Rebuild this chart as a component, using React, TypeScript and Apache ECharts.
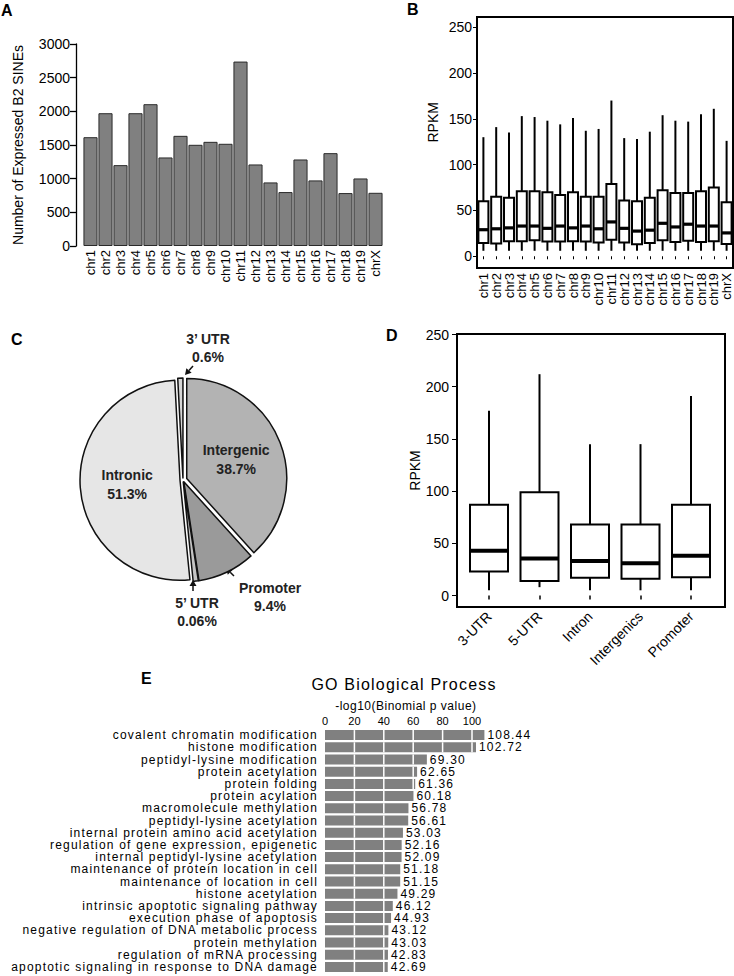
import React, { useEffect, useRef } from "react";
import * as echarts from "echarts";

const FONT = "'Liberation Sans', Arial, Helvetica, sans-serif";

// ---------- Panel A ----------
const chromosomes = ["chr1", "chr2", "chr3", "chr4", "chr5", "chr6", "chr7", "chr8", "chr9", "chr10", "chr11", "chr12", "chr13", "chr14", "chr15", "chr16", "chr17", "chr18", "chr19", "chrX"];
const expressedB2Counts = [1616, 1972, 1201, 1972, 2106, 1315, 1636, 1503, 1547, 1518, 2739, 1211, 944, 801, 1285, 974, 1379, 786, 1003, 790];

// ---------- Panel B ----------
const chrRpkmLow = [6, 6, 6, 6, 6, 6, 6, 6, 6, 6, 6, 6, 6, 6, 6, 6, 6, 6, 6, 6];
const chrRpkmQ1 = [14.5, 14, 16.5, 16.5, 17.5, 16, 16, 16.5, 16, 15, 18, 15, 13, 14.5, 17.5, 15.5, 17, 15.5, 16.5, 13.5];
const chrRpkmMedian = [29, 30, 31, 33, 33, 30.5, 33, 31, 33, 30, 37.5, 30.5, 27.5, 28.5, 36, 32, 35, 33, 33, 25.5];
const chrRpkmQ3 = [60, 65, 64, 71, 71, 70, 67, 70, 65, 65, 79, 61, 60, 64, 72, 69, 69, 71, 75, 59];
const chrRpkmHigh = [130, 141, 135, 153, 152, 148, 144, 151, 137, 139, 170, 129, 128, 136, 154, 148, 147, 155, 161, 126];
const rpkmTicks = [0, 50, 100, 150, 200, 250];

// ---------- Panel C ----------
const regionNames = ["Intergenic", "Promoter", "5’ UTR", "Intronic", "3’ UTR"];
const regionPercents = [38.7, 9.4, 0.06, 51.3, 0.6];

// ---------- Panel D ----------
const featureNames = ["3-UTR", "5-UTR", "Intron", "Intergenics", "Promoter"];
const featureLow = [5, 8, 5, 5, 5];
const featureQ1 = [23, 14, 17, 16, 17.5];
const featureMedian = [43, 35.5, 33, 31, 38];
const featureQ3 = [87, 99, 68, 68, 87];
const featureHigh = [177, 212, 145, 145, 191];

// ---------- Panel E ----------
const goTerms = [
  "covalent chromatin modification",
  "histone modification",
  "peptidyl-lysine modification",
  "protein acetylation",
  "protein folding",
  "protein acylation",
  "macromolecule methylation",
  "peptidyl-lysine acetylation",
  "internal protein amino acid acetylation",
  "regulation of gene expression, epigenetic",
  "internal peptidyl-lysine acetylation",
  "maintenance of protein location in cell",
  "maintenance of location in cell",
  "histone acetylation",
  "intrinsic apoptotic signaling pathway",
  "execution phase of apoptosis",
  "negative regulation of DNA metabolic process",
  "protein methylation",
  "regulation of mRNA processing",
  "apoptotic signaling in response to DNA damage",
];
const goScores = [108.44, 102.72, 69.3, 62.65, 61.36, 60.18, 56.78, 56.61, 53.03, 52.16, 52.09, 51.18, 51.15, 49.29, 46.12, 44.93, 43.12, 43.03, 42.83, 42.69];
const goTicks = [0, 20, 40, 60, 80, 100];

// ---------- styles ----------
const sliceColors = ["#b3b3b3", "#9a9a9a", "#c4c4c4", "#e6e6e6", "#d6d6d6"];
const sliceExplode = [4, 2, 2, 3, 2];
const PIE_MIN_ANGLE = 3;
const PIE_CX = 183;
const PIE_CY = 480;

function sliceMidAngles(values: number[]) {
  const total = values.reduce((a, b) => a + b, 0);
  const small = values.map((v) => (v / total) * 360 < PIE_MIN_ANGLE);
  const smallSum = small.filter(Boolean).length * PIE_MIN_ANGLE;
  const bigTotal = values.reduce((s, v, i) => (small[i] ? s : s + v), 0);
  const ang = values.map((v, i) => (small[i] ? PIE_MIN_ANGLE : (v / bigTotal) * (360 - smallSum)));
  let acc = 0;
  return ang.map((a) => {
    const m = acc + a / 2;
    acc += a;
    return m;
  });
}

function boxRenderer(boxW: number, lw: number, medW: number) {
  return (params: any, api: any) => {
    const x = api.value(0);
    const low = api.coord([x, api.value(1)]);
    const q1 = api.coord([x, api.value(2)]);
    const med = api.coord([x, api.value(3)]);
    const q3 = api.coord([x, api.value(4)]);
    const high = api.coord([x, api.value(5)]);
    const cx = low[0];
    const hw = boxW / 2;
    const stroke = { stroke: "#000", lineWidth: lw };
    return {
      type: "group",
      children: [
        { type: "line", shape: { x1: cx, y1: high[1], x2: cx, y2: q3[1] }, style: stroke },
        { type: "line", shape: { x1: cx, y1: q1[1], x2: cx, y2: low[1] }, style: stroke },
        { type: "rect", shape: { x: cx - hw, y: q3[1], width: boxW, height: q1[1] - q3[1] }, style: { fill: "#fff", stroke: "#000", lineWidth: lw } },
        { type: "line", shape: { x1: cx - hw, y1: med[1], x2: cx + hw, y2: med[1] }, style: { stroke: "#000", lineWidth: medW } },
      ],
    };
  };
}

function arrow(tail: [number, number], tip: [number, number]) {
  const dx = tip[0] - tail[0];
  const dy = tip[1] - tail[1];
  const len = Math.hypot(dx, dy);
  const ux = dx / len;
  const uy = dy / len;
  const bx = tip[0] - 6 * ux;
  const by = tip[1] - 6 * uy;
  const px = -uy * 3.5;
  const py = ux * 3.5;
  return [
    { type: "line", shape: { x1: tail[0], y1: tail[1], x2: bx, y2: by }, style: { stroke: "#111", lineWidth: 1.5 }, silent: true },
    { type: "polygon", shape: { points: [tip, [bx + px, by + py], [bx - px, by - py]] }, style: { fill: "#111" }, silent: true },
  ];
}

function letter(t: string, x: number, y: number) {
  return {
    type: "text",
    x,
    y,
    silent: true,
    style: { text: t, font: `bold 16px ${FONT}`, fill: "#000", textAlign: "left", textVerticalAlign: "top" },
  };
}

export default function App() {
  const ref = useRef<HTMLDivElement>(null);

  useEffect(() => {
    const el = ref.current!;
    const chart = echarts.init(el, null, { renderer: "svg" });

    const mids = sliceMidAngles(regionPercents);
    const pieSeries = regionNames.map((_, i) => {
      const rad = (mids[i] * Math.PI) / 180;
      const dx = sliceExplode[i] * Math.sin(rad);
      const dy = -sliceExplode[i] * Math.cos(rad);
      return {
        type: "pie",
        center: [PIE_CX + dx, PIE_CY + dy],
        radius: 100,
        startAngle: 90,
        clockwise: true,
        minAngle: PIE_MIN_ANGLE,
        silent: true,
        avoidLabelOverlap: false,
        labelLine: { show: false },
        emphasis: { disabled: true },
        label: { show: false },
        data: regionNames.map((n, j) => ({
          name: n,
          value: regionPercents[j],
          itemStyle:
            j === i
              ? { color: sliceColors[j], borderColor: "#111", borderWidth: 1.5 }
              : { color: "rgba(0,0,0,0)", borderColor: "rgba(0,0,0,0)", borderWidth: 0 },
          label:
            j === i && (n === "Intergenic" || n === "Intronic")
              ? {
                  show: true,
                  position: "inside",
                  formatter: `${n}\n${regionPercents[j]}%`,
                  fontSize: 14,
                  fontWeight: "bold",
                  fontFamily: FONT,
                  color: "#222",
                  lineHeight: 19,
                }
              : { show: false },
        })),
      };
    });

    const axisText = { color: "#000", fontFamily: FONT };

    const option: any = {
      animation: false,
      backgroundColor: "#fff",
      grid: [
        { left: 83, top: 44, width: 300, height: 202 },
        { left: 477, top: 17, width: 256, height: 251, show: true, borderColor: "#000", borderWidth: 2, backgroundColor: "transparent" },
        { left: 457, top: 334, width: 268, height: 273, show: true, borderColor: "#000", borderWidth: 2, backgroundColor: "transparent" },
        { left: 463.75, top: 334, width: 252.5, height: 273 },
        { left: 325, top: 729, width: 161.7, height: 244 },
      ],
      xAxis: [
        {
          gridIndex: 0,
          type: "category",
          data: chromosomes,
          axisLine: { show: false },
          axisTick: { show: false },
          axisLabel: { ...axisText, rotate: 90, interval: 0, fontSize: 13, margin: 4 },
        },
        {
          gridIndex: 1,
          type: "category",
          data: chromosomes,
          axisLine: { show: false },
          axisTick: { show: true, alignWithLabel: true, length: 3, lineStyle: { color: "#000" } },
          axisLabel: { ...axisText, rotate: 90, interval: 0, fontSize: 13, margin: 5 },
        },
        { gridIndex: 2, type: "value", show: false },
        {
          gridIndex: 3,
          type: "category",
          data: featureNames,
          axisLine: { show: false },
          axisTick: { show: true, alignWithLabel: true, length: 4, lineStyle: { color: "#000", width: 1.5 } },
          axisLabel: { ...axisText, rotate: 45, interval: 0, fontSize: 14, margin: 7 },
        },
        {
          gridIndex: 4,
          type: "value",
          position: "top",
          min: 0,
          max: 110,
          axisLine: { show: false },
          axisTick: { show: false },
          splitLine: { show: false },
          axisLabel: { ...axisText, fontSize: 11, margin: 3, customValues: goTicks },
          name: "-log10(Binomial p value)",
          nameLocation: "middle",
          nameGap: 17,
          nameTextStyle: { ...axisText, fontSize: 12 },
        },
      ],
      yAxis: [
        {
          gridIndex: 0,
          type: "value",
          min: 0,
          max: 3000,
          interval: 500,
          offset: 7,
          axisLine: { show: true, lineStyle: { color: "#000", width: 1.3 } },
          axisTick: { show: true, length: 6, lineStyle: { color: "#000", width: 1.3 } },
          splitLine: { show: false },
          axisLabel: { ...axisText, fontSize: 14, margin: 6, formatter: (v: number) => String(v) },
          name: "Number of Expressed B2 SINEs",
          nameLocation: "middle",
          nameGap: 51,
          nameTextStyle: { ...axisText, fontSize: 14 },
        },
        {
          gridIndex: 1,
          type: "value",
          min: -12.8,
          max: 261.2,
          axisLine: { show: false },
          axisTick: { show: true, length: 4, customValues: rpkmTicks, lineStyle: { color: "#000" } },
          splitLine: { show: false },
          axisLabel: { ...axisText, fontSize: 14, margin: 5, customValues: rpkmTicks },
          name: "RPKM",
          nameLocation: "middle",
          nameGap: 37,
          nameTextStyle: { ...axisText, fontSize: 14, align: "left" },
        },
        { gridIndex: 2, type: "value", show: false },
        {
          gridIndex: 3,
          type: "value",
          min: -11,
          max: 250.5,
          offset: 6.75,
          axisLine: { show: false },
          axisTick: { show: true, length: 5, customValues: rpkmTicks, lineStyle: { color: "#000" } },
          splitLine: { show: false },
          axisLabel: { ...axisText, fontSize: 14, margin: 8, customValues: rpkmTicks },
          name: "RPKM",
          nameLocation: "middle",
          nameGap: 32,
          nameTextStyle: { ...axisText, fontSize: 14 },
        },
        {
          gridIndex: 4,
          type: "category",
          inverse: true,
          data: goTerms,
          axisLine: { show: false },
          axisTick: { show: false },
          axisLabel: { ...axisText, fontSize: 12, margin: 7, interval: 0 },
        },
      ],
      series: [
        {
          type: "bar",
          xAxisIndex: 0,
          yAxisIndex: 0,
          data: expressedB2Counts,
          barCategoryGap: "6%",
          itemStyle: { color: "#808080", borderColor: "#2a2a2a", borderWidth: 1 },
          silent: true,
        },
        {
          type: "custom",
          xAxisIndex: 1,
          yAxisIndex: 1,
          silent: true,
          encode: { x: 0, y: [1, 2, 3, 4, 5] },
          data: chromosomes.map((_, i) => [i, chrRpkmLow[i], chrRpkmQ1[i], chrRpkmMedian[i], chrRpkmQ3[i], chrRpkmHigh[i]]),
          renderItem: boxRenderer(10, 2, 3.2),
        },
        {
          type: "custom",
          xAxisIndex: 3,
          yAxisIndex: 3,
          silent: true,
          encode: { x: 0, y: [1, 2, 3, 4, 5] },
          data: featureNames.map((_, i) => [i, featureLow[i], featureQ1[i], featureMedian[i], featureQ3[i], featureHigh[i]]),
          renderItem: boxRenderer(38, 2, 4),
        },
        ...pieSeries,
        {
          type: "bar",
          xAxisIndex: 4,
          yAxisIndex: 4,
          data: goScores,
          barWidth: 10,
          silent: true,
          itemStyle: { color: "#808080" },
          label: {
            show: true,
            position: "right",
            distance: 3,
            formatter: (p: any) => Number(p.value).toFixed(2),
            fontSize: 12,
            fontFamily: FONT,
            color: "#000",
          },
        },
        {
          type: "custom",
          xAxisIndex: 4,
          yAxisIndex: 4,
          silent: true,
          z: 5,
          encode: { x: 0, y: 1 },
          data: goScores.map((v, i) => [v, i]),
          renderItem: (params: any, api: any) => {
            const v = api.value(0);
            const idx = api.value(1);
            const children: any[] = [];
            goTicks.forEach((t) => {
              if (t > 0 && t < v - 0.3) {
                const p = api.coord([t, idx]);
                children.push({ type: "line", shape: { x1: p[0], y1: p[1] - 5, x2: p[0], y2: p[1] + 5 }, style: { stroke: "#fff", lineWidth: 1.5 } });
              }
            });
            return { type: "group", children };
          },
        },
      ],
      graphic: [
        letter("A", 1, 2),
        letter("B", 407, 1),
        letter("C", 11, 331),
        letter("D", 386, 327),
        letter("E", 141, 670),
        {
          type: "text",
          x: 404,
          y: 684,
          silent: true,
          style: { text: "GO Biological Process", font: `16px ${FONT}`, fill: "#000", textAlign: "center", textVerticalAlign: "middle" },
        },
        {
          type: "text",
          x: 208,
          y: 348,
          silent: true,
          style: { text: `${regionNames[4]}\n${regionPercents[4]}%`, font: `bold 14px ${FONT}`, fill: "#222", textAlign: "center", textVerticalAlign: "middle", lineHeight: 18 },
        },
        {
          type: "text",
          x: 270,
          y: 597,
          silent: true,
          style: { text: `${regionNames[1]}\n${regionPercents[1]}%`, font: `bold 14px ${FONT}`, fill: "#222", textAlign: "center", textVerticalAlign: "middle", lineHeight: 18 },
        },
        {
          type: "text",
          x: 197,
          y: 612,
          silent: true,
          style: { text: `${regionNames[2]}\n${regionPercents[2]}%`, font: `bold 14px ${FONT}`, fill: "#222", textAlign: "center", textVerticalAlign: "middle", lineHeight: 18 },
        },
        ...arrow([193, 366], [185, 375]),
        ...arrow([234, 576], [226, 568]),
        ...arrow([193, 591], [193, 580]),
      ],
    };

    chart.setOption(option);

    const spacing = new Map<string, number>();
    goTerms.forEach((t) => spacing.set(t, 1.2));
    goScores.forEach((v) => spacing.set(v.toFixed(2), 1.2));
    spacing.set("GO Biological Process", 1.2);
    spacing.set("-log10(Binomial p value)", 0.5);
    const applySpacing = () => {
      el.querySelectorAll("text").forEach((t) => {
        const ls = spacing.get((t.textContent || "").trim());
        if (ls !== undefined) t.setAttribute("letter-spacing", String(ls));
      });
    };
    applySpacing();
    chart.on("finished", applySpacing);
    const timer = window.setTimeout(applySpacing, 30);

    return () => {
      window.clearTimeout(timer);
      chart.dispose();
    };
  }, []);

  return (
    <div
      ref={ref}
      style={{ position: "absolute", left: 0, top: 0, width: 734, height: 976, background: "#fff" }}
    />
  );
}
